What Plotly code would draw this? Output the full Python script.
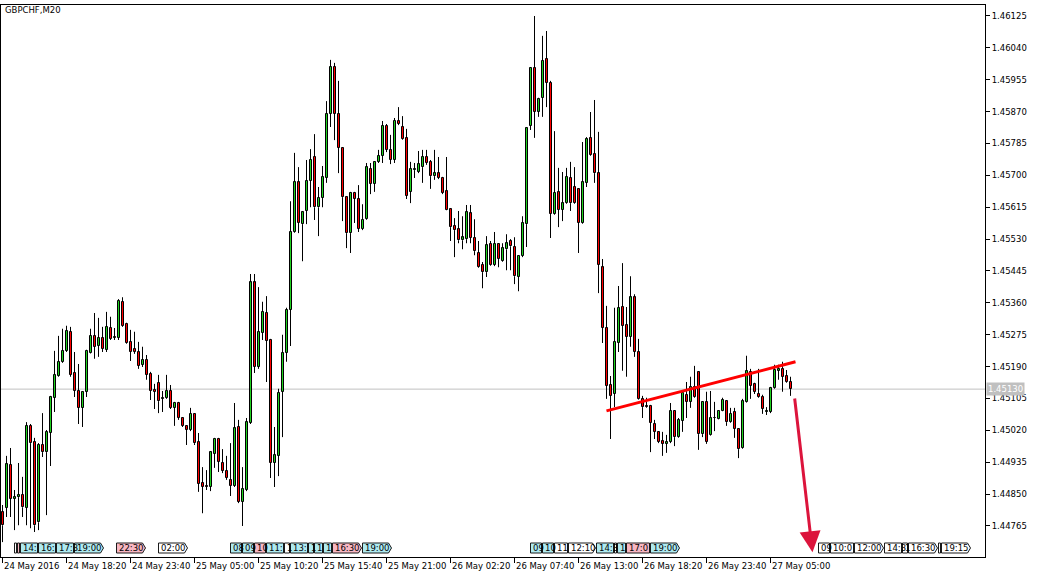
import plotly.graph_objects as go
import pandas as pd

# ---------------- data ----------------
symbol_title = "GBPCHF,M20"
start_time = "2016-05-24 13:00"
bar_minutes = 20

opens = [1.44802,1.44813,1.44928,1.44837,1.44842,1.44848,1.44813,1.45032,1.44989,1.44775,
1.44981,1.44962,1.45013,1.45107,1.45165,1.45203,1.45232,1.45283,1.45173,1.45125,
1.45080,1.45123,1.45227,1.45272,1.45245,1.45267,1.45235,1.45293,1.45267,1.45267,
1.45363,1.45304,1.45256,1.45237,1.45229,1.45195,1.45208,1.45171,1.45128,1.45147,
1.45104,1.45107,1.45125,1.45080,1.45093,1.45053,1.45032,1.45021,1.45064,1.44989,
1.44880,1.44872,1.44869,1.44957,1.44997,1.44933,1.44912,1.44888,1.44872,1.45029,
1.44829,1.44861,1.45040,1.45415,1.45189,1.45280,1.45333,1.45261,1.44933,1.44952,
1.45123,1.45227,1.45341,1.45549,1.45682,1.45570,1.45605,1.45685,1.45749,1.45615,
1.45640,1.45693,1.45864,1.45989,1.45864,1.45773,1.45642,1.45546,1.45653,1.45637,
1.45557,1.45583,1.45717,1.45677,1.45736,1.45752,1.45832,1.45768,1.45741,1.45845,
1.45829,1.45800,1.45656,1.45714,1.45709,1.45722,1.45749,1.45736,1.45698,1.45706,
1.45693,1.45658,1.45610,1.45565,1.45557,1.45527,1.45530,1.45599,1.45533,1.45493,
1.45461,1.45442,1.45517,1.45461,1.45517,1.45471,1.45503,1.45525,1.45509,1.45429,
1.45485,1.45570,1.45832,1.45987,1.45869,1.45907,1.46011,1.45947,1.45597,1.45656,
1.45608,1.45626,1.45693,1.45669,1.45664,1.45573,1.45680,1.45800,1.45757,1.45706,
1.45455,1.45293,1.45141,1.45117,1.45253,1.45349,1.45301,1.45269,1.45375,1.45229,
1.45104,1.45085,1.45085,1.45037,1.45016,1.44992,1.44984,1.44989,1.45072,1.45002,
1.45045,1.45115,1.45096,1.45136,1.45176,1.45010,1.45096,1.45008,1.45053,1.45050,
1.45072,1.45098,1.45042,1.45069,1.45024,1.44973,1.45096,1.45176,1.45144,1.45117,
1.45109,1.45069,1.45069,1.45133,1.45179,1.45184,1.45165,1.45149]

highs = [1.44821,1.44952,1.44973,1.44861,1.44933,1.44896,1.45042,1.45037,1.45000,1.44986,
1.45066,1.45021,1.45112,1.45232,1.45272,1.45291,1.45299,1.45296,1.45229,1.45197,
1.45125,1.45235,1.45291,1.45333,1.45320,1.45296,1.45336,1.45323,1.45293,1.45370,
1.45375,1.45307,1.45288,1.45283,1.45256,1.45243,1.45221,1.45176,1.45144,1.45168,
1.45125,1.45168,1.45141,1.45096,1.45096,1.45054,1.45034,1.45080,1.45066,1.45013,
1.44922,1.44914,1.44964,1.45000,1.45000,1.44970,1.44952,1.44986,1.45093,1.45048,
1.44922,1.45053,1.45437,1.45437,1.45402,1.45363,1.45378,1.45264,1.45029,1.45131,
1.45275,1.45347,1.45631,1.45760,1.45722,1.45605,1.45741,1.45770,1.45810,1.45669,
1.45725,1.45898,1.46008,1.46000,1.45952,1.45775,1.45645,1.45656,1.45656,1.45674,
1.45623,1.45733,1.45733,1.45738,1.45768,1.45845,1.45837,1.45808,1.45853,1.45882,
1.45858,1.45824,1.45736,1.45733,1.45765,1.45768,1.45768,1.45741,1.45768,1.45749,
1.45696,1.45749,1.45613,1.45586,1.45605,1.45591,1.45621,1.45621,1.45583,1.45525,
1.45469,1.45538,1.45525,1.45549,1.45519,1.45519,1.45543,1.45530,1.45535,1.45487,
1.45591,1.45829,1.45989,1.46125,1.45907,1.46072,1.46085,1.45952,1.45818,1.45720,
1.45709,1.45720,1.45736,1.45722,1.45666,1.45789,1.45802,1.45869,1.45901,1.45816,
1.45477,1.45352,1.45165,1.45347,1.45405,1.45466,1.45349,1.45431,1.45383,1.45264,
1.45112,1.45107,1.45088,1.45048,1.45018,1.45016,1.45008,1.45093,1.45074,1.45053,
1.45123,1.45149,1.45163,1.45192,1.45178,1.45098,1.45123,1.45125,1.45096,1.45073,
1.45107,1.45101,1.45080,1.45080,1.45026,1.45104,1.45219,1.45184,1.45147,1.45184,
1.45115,1.45082,1.45136,1.45195,1.45195,1.45203,1.45181,1.45163]

lows = [1.44722,1.44789,1.44789,1.44754,1.44767,1.44789,1.44767,1.44759,1.44749,1.44754,
1.44949,1.44794,1.44925,1.45069,1.45163,1.45200,1.45229,1.45163,1.45109,1.45037,
1.45029,1.45109,1.45225,1.45211,1.45216,1.45229,1.45229,1.45261,1.45261,1.45261,
1.45296,1.45251,1.45205,1.45224,1.45184,1.45189,1.45155,1.45101,1.45077,1.45066,
1.45069,1.45104,1.45077,1.45032,1.45048,1.45029,1.44981,1.45018,1.44981,1.44856,
1.44799,1.44861,1.44858,1.44920,1.44909,1.44906,1.44888,1.44845,1.44869,1.44826,
1.44765,1.44858,1.45037,1.45173,1.45184,1.45261,1.45149,1.44893,1.44869,1.44898,
1.45002,1.45203,1.45245,1.45547,1.45546,1.45471,1.45570,1.45615,1.45581,1.45538,
1.45615,1.45680,1.45829,1.45794,1.45706,1.45578,1.45506,1.45493,1.45573,1.45549,
1.45554,1.45581,1.45650,1.45656,1.45733,1.45733,1.45762,1.45730,1.45733,1.45834,
1.45795,1.45637,1.45626,1.45693,1.45706,1.45680,1.45728,1.45664,1.45688,1.45690,
1.45650,1.45607,1.45525,1.45482,1.45519,1.45503,1.45519,1.45519,1.45487,1.45453,
1.45399,1.45429,1.45459,1.45458,1.45455,1.45469,1.45447,1.45447,1.45410,1.45391,
1.45482,1.45509,1.45821,1.45800,1.45856,1.45856,1.45882,1.45533,1.45595,1.45562,
1.45578,1.45624,1.45605,1.45624,1.45493,1.45571,1.45669,1.45752,1.45680,1.45386,
1.45253,1.45104,1.44997,1.45082,1.45229,1.45179,1.45163,1.45243,1.45216,1.45102,
1.45053,1.45080,1.44962,1.44997,1.44986,1.44952,1.44960,1.44986,1.44978,1.45000,
1.45016,1.45053,1.45080,1.45107,1.44968,1.45002,1.44984,1.45006,1.45018,1.45049,
1.45071,1.45032,1.45040,1.45000,1.44946,1.44971,1.45094,1.45104,1.45117,1.45107,
1.45064,1.45061,1.45066,1.45131,1.45155,1.45123,1.45147,1.45112]

closes = [1.44767,1.44930,1.44837,1.44842,1.44848,1.44815,1.45032,1.44986,1.44767,1.44981,
1.44962,1.45016,1.45109,1.45168,1.45203,1.45232,1.45285,1.45168,1.45125,1.45080,
1.45123,1.45232,1.45272,1.45243,1.45267,1.45237,1.45296,1.45264,1.45268,1.45365,
1.45299,1.45253,1.45229,1.45229,1.45192,1.45208,1.45168,1.45125,1.45123,1.45098,
1.45107,1.45125,1.45080,1.45093,1.45053,1.45032,1.45021,1.45064,1.44986,1.44877,
1.44869,1.44869,1.44962,1.44997,1.44936,1.44912,1.44893,1.44872,1.45026,1.44829,
1.44864,1.45042,1.45415,1.45189,1.45283,1.45336,1.45259,1.44933,1.44954,1.45120,
1.45227,1.45341,1.45549,1.45682,1.45573,1.45602,1.45685,1.45741,1.45615,1.45640,
1.45696,1.45864,1.45989,1.45864,1.45773,1.45642,1.45546,1.45653,1.45637,1.45557,
1.45581,1.45722,1.45677,1.45736,1.45752,1.45832,1.45768,1.45741,1.45845,1.45837,
1.45797,1.45645,1.45717,1.45717,1.45730,1.45749,1.45733,1.45698,1.45706,1.45693,
1.45653,1.45608,1.45562,1.45554,1.45527,1.45535,1.45602,1.45533,1.45498,1.45455,
1.45442,1.45514,1.45461,1.45517,1.45477,1.45506,1.45519,1.45511,1.45431,1.45485,
1.45573,1.45826,1.45987,1.45869,1.45904,1.46005,1.45947,1.45597,1.45653,1.45608,
1.45626,1.45696,1.45626,1.45626,1.45573,1.45682,1.45797,1.45754,1.45706,1.45461,
1.45293,1.45139,1.45112,1.45256,1.45347,1.45299,1.45269,1.45375,1.45229,1.45104,
1.45082,1.45082,1.45040,1.45016,1.44989,1.44984,1.44989,1.45072,1.45002,1.45048,
1.45120,1.45096,1.45136,1.45109,1.45010,1.45096,1.44989,1.45053,1.45054,1.45072,
1.45101,1.45042,1.45064,1.45024,1.44970,1.45098,1.45179,1.45139,1.45123,1.45109,
1.45077,1.45072,1.45133,1.45181,1.45184,1.45163,1.45149,1.45130]

tick_labels = ["24 May 2016", "24 May 18:20", "24 May 23:40", "25 May 05:00", "25 May 10:20",
               "25 May 15:40", "25 May 21:00", "26 May 02:20", "26 May 07:40", "26 May 13:00",
               "26 May 18:20", "26 May 23:40", "27 May 05:00"]
bars_per_tick = 16

price_ticks = [1.44765, 1.44850, 1.44935, 1.45020, 1.45105, 1.45190, 1.45275, 1.45360,
               1.45445, 1.45530, 1.45615, 1.45700, 1.45785, 1.45870, 1.45955, 1.46040, 1.46125]
price_range = [1.446823, 1.461543]
current_price = 1.45130

# trend line drawn on chart (bar index, price)
trend_bars = [151, 198.25]
trend_prices = [1.45072, 1.45203]
# forecast arrow (bar index, price): tail then tip
arrow_bars = [198, 202.5]
arrow_prices = [1.45109, 1.44695]

# economic calendar events
event_times = ["2016-05-24 14:00", "2016-05-24 14:15", "2016-05-24 14:30", "2016-05-24 16:00",
               "2016-05-24 17:30", "2016-05-24 19:00", "2016-05-24 22:30", "2016-05-25 02:00",
               "2016-05-25 08:00", "2016-05-25 09:00", "2016-05-25 10:00", "2016-05-25 11:00",
               "2016-05-25 12:30", "2016-05-25 13:00", "2016-05-25 14:30", "2016-05-25 15:00",
               "2016-05-25 15:45", "2016-05-25 16:30", "2016-05-25 19:00",
               "2016-05-26 09:00", "2016-05-26 10:00", "2016-05-26 11:00", "2016-05-26 12:10",
               "2016-05-26 14:30", "2016-05-26 16:00", "2016-05-26 16:15", "2016-05-26 17:00",
               "2016-05-26 19:00",
               "2016-05-27 09:00", "2016-05-27 10:00", "2016-05-27 12:00", "2016-05-27 14:30",
               "2016-05-27 16:00", "2016-05-27 16:30", "2016-05-27 19:00", "2016-05-27 19:15"]
event_labels = ["", "", "14:", "16:", "17:3", "19:00", "22:30", "02:00",
                "08", "09", "10", "11:", "1", "13:", "1", "1", "1", "16:30", "19:00",
                "09", "10", "11", "12:10", "14:3", "", "1", "17:0", "19:00",
                "09", "10:0", "12:00", "14:3", "1", "16:30", "", "19:15"]
event_kinds = ["w", "p", "c", "c", "c", "c", "p", "w",
               "c", "c", "p", "c", "w", "c", "c", "c", "c", "p", "c",
               "c", "c", "w", "w", "c", "w", "c", "p", "c",
               "w", "w", "w", "w", "w", "w", "w", "w"]

# ---------------- styling ----------------
FONT = "DejaVu Sans"
FS = 8.5
BULL = "#1fd21f"
BEAR = "#ff0000"
kind_colors = {"c": "#aeeaf0", "p": "#f7b6c2", "w": "#ffffff"}
W, H = 1039, 578
M = dict(l=1, r=54, t=5, b=21, autoexpand=False)
plot_h = H - M["t"] - M["b"]
plot_w = W - M["l"] - M["r"]
px_per_bar = 4.0

n = len(opens)
bars = list(range(n))
t0 = pd.Timestamp(start_time)

def to_bar(ts):
    return (pd.Timestamp(ts) - t0) / pd.Timedelta(minutes=bar_minutes)

# candle centres land on pixel centres
x_left = -0.375
x_right = x_left + plot_w / px_per_bar

fig = go.Figure()

# bodies (open-close)
body_top = [max(o, c) for o, c in zip(opens, closes)]
body_base = [min(o, c) for o, c in zip(opens, closes)]
body_len = [t - b for t, b in zip(body_top, body_base)]
body_col = [BULL if c >= o else BEAR for o, c in zip(opens, closes)]
fig.add_trace(go.Bar(x=bars, y=body_len, base=body_base, width=0.5,
                     marker=dict(color=body_col, line=dict(color="#000000", width=1)),
                     hoverinfo="skip", showlegend=False))

# wicks: upper (high -> body top) and lower (body bottom -> low), not crossing the body
wx, wy = [], []
for i in bars:
    wx += [i, i, None, i, i, None]
    wy += [highs[i], body_top[i], None, body_base[i], lows[i], None]
fig.add_trace(go.Scatter(x=wx, y=wy, mode="lines", line=dict(color="#000000", width=1),
                         hoverinfo="skip", showlegend=False, connectgaps=False))

fig.add_trace(go.Scatter(x=trend_bars, y=trend_prices, mode="lines",
                         line=dict(color="#ff0000", width=3), hoverinfo="skip", showlegend=False))

shapes = []
annotations = []

# current price line
shapes.append(dict(type="line", xref="paper", x0=0, x1=1, yref="y", y0=current_price, y1=current_price,
                   line=dict(color="#c0c0c0", width=1), layer="below"))
annotations.append(dict(xref="paper", x=1, xanchor="left", xshift=1, yref="y", y=current_price,
                        yanchor="middle", text=f"{current_price:.5f}", showarrow=False,
                        bgcolor="#c0c0c0", font=dict(family=FONT, size=FS, color="#ffffff"),
                        borderpad=1))

# x tick labels (left-aligned at tick)
tick_bars = [k * bars_per_tick for k in range(len(tick_labels))]
for tb, lab in zip(tick_bars, tick_labels):
    annotations.append(dict(x=tb, xref="x", xanchor="left", xshift=-1, y=0, yref="paper",
                            yanchor="top", yshift=-2, text=lab, showarrow=False,
                            font=dict(family=FONT, size=FS, color="#000000")))

# title
annotations.append(dict(xref="paper", x=0, xanchor="left", xshift=2, yref="paper", y=1,
                        yanchor="top", yshift=2, text=symbol_title, showarrow=False,
                        font=dict(family=FONT, size=FS, color="#000000")))

# forecast arrow
annotations.append(dict(x=arrow_bars[1], y=arrow_prices[1], xref="x", yref="y",
                        ax=arrow_bars[0], ay=arrow_prices[0], axref="x", ayref="y",
                        text="", showarrow=True, arrowhead=2, arrowsize=1.4, arrowwidth=3,
                        arrowcolor="#dc143c", standoff=0))

# event boxes
ev_bars = [to_bar(t) for t in event_times]
yb0 = 4 / plot_h
yb1 = 14 / plot_h
ym = (yb0 + yb1) / 2
full_w = 7.25
tip = 0.75
for i, (eb, lab, kind) in enumerate(zip(ev_bars, event_labels, event_kinds)):
    nxt = ev_bars[i + 1] if i + 1 < len(ev_bars) else eb + 100
    avail = nxt - eb - 0.25
    col = kind_colors[kind]
    if avail >= 6.75:
        xe = eb + min(full_w, avail)
        xb = xe - tip
        path = f"M {eb},{yb0} L {xb},{yb0} L {xe},{ym} L {xb},{yb1} L {eb},{yb1} Z"
    else:
        xe = eb + max(avail, 0.4)
        path = f"M {eb},{yb0} L {xe},{yb0} L {xe},{yb1} L {eb},{yb1} Z"
    shapes.append(dict(type="path", path=path, xref="x", yref="paper",
                       fillcolor=col, line=dict(color="#1a1a1a", width=1)))
    if lab:
        annotations.append(dict(x=eb, xref="x", xanchor="left", xshift=0, y=ym, yref="paper",
                                yanchor="middle", text=lab, showarrow=False,
                                font=dict(family=FONT, size=FS, color="#000000")))

fig.update_layout(
    width=W, height=H, margin=M,
    paper_bgcolor="#ffffff", plot_bgcolor="#ffffff",
    barmode="overlay", bargap=0, bargroupgap=0,
    shapes=shapes, annotations=annotations,
    font=dict(family=FONT, size=FS, color="#000000"),
    xaxis=dict(range=[x_left, x_right], showgrid=False, zeroline=False,
               showline=True, linecolor="#000000", linewidth=1, mirror=True,
               tickvals=tick_bars, ticks="outside", ticklen=5, tickcolor="#000000",
               showticklabels=False, fixedrange=True, automargin=False),
    yaxis=dict(range=price_range, side="right", showgrid=False, zeroline=False,
               showline=True, linecolor="#000000", linewidth=1, mirror=True,
               tickvals=price_ticks, ticktext=[f"{v:.5f}" for v in price_ticks],
               ticks="outside", ticklen=4, tickcolor="#000000",
               tickfont=dict(family=FONT, size=FS, color="#000000"), fixedrange=True,
               automargin=False),
)

fig.write_html("out.html", config={"displayModeBar": False})

# remove default page margin so the figure sits at the window origin
with open("out.html", "r", encoding="utf-8") as fh:
    html = fh.read()
html = html.replace("<head>", "<head><style>html,body{margin:0;padding:0;overflow:hidden;}</style>", 1)
with open("out.html", "w", encoding="utf-8") as fh:
    fh.write(html)
